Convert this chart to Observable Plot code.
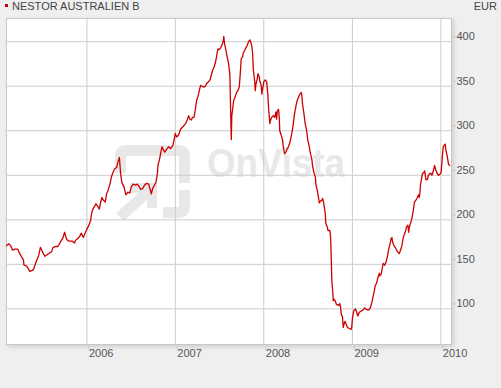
<!DOCTYPE html>
<html><head><meta charset="utf-8">
<script src="https://cdn.jsdelivr.net/npm/d3@7"></script>
<script src="https://cdn.jsdelivr.net/npm/@observablehq/plot@0.6"></script>
<style>
html,body{margin:0;padding:0;background:#efefef;}
#chart{width:501px;height:388px;overflow:hidden;}
svg{display:block}
</style></head><body><div id="chart"></div>
<script>
const title = "NESTOR AUSTRALIEN B";
const currency = "EUR";
const watermark = "OnVista";
const yTicks = [100, 150, 200, 250, 300, 350, 400];
const xTickDates = ["2006-01-01", "2007-01-01", "2008-01-01", "2009-01-01", "2010-01-01"];
const xDomain = ["2005-02-03", "2010-02-14"];
const yDomain = [60, 426];

const dates = [
"2005-02-03","2005-02-12","2005-02-20","2005-02-28","2005-03-09","2005-03-22","2005-03-26","2005-04-05","2005-04-14","2005-04-16",
"2005-04-27","2005-05-05","2005-05-10","2005-05-18","2005-05-25","2005-05-30","2005-06-07","2005-06-16","2005-06-23","2005-06-28",
"2005-07-05","2005-07-12","2005-07-22","2005-08-01","2005-08-08","2005-08-14","2005-08-24","2005-09-03","2005-09-12","2005-09-15",
"2005-09-23","2005-10-01","2005-10-05","2005-10-09","2005-10-19","2005-11-02","2005-11-11","2005-11-15","2005-11-25","2005-12-03",
"2005-12-09","2005-12-17","2005-12-23","2005-12-31","2006-01-09","2006-01-16","2006-01-19","2006-01-23","2006-01-30","2006-02-07",
"2006-02-15","2006-02-21","2006-02-27","2006-03-04","2006-03-10","2006-03-18","2006-03-23","2006-03-29","2006-04-06","2006-04-12",
"2006-04-17","2006-04-25","2006-05-04","2006-05-09","2006-05-15","2006-05-17","2006-05-20","2006-05-25","2006-06-03","2006-06-11",
"2006-06-19","2006-06-27","2006-07-03","2006-07-11","2006-07-20","2006-07-28","2006-08-05","2006-08-11","2006-08-19","2006-08-27",
"2006-09-04","2006-09-13","2006-09-18","2006-09-24","2006-09-29","2006-10-07","2006-10-13","2006-10-19","2006-10-21","2006-10-27",
"2006-11-01","2006-11-07","2006-11-12","2006-11-18","2006-11-26","2006-12-04","2006-12-12","2006-12-21","2006-12-26","2007-01-01",
"2007-01-06","2007-01-14","2007-01-23","2007-02-03","2007-02-12","2007-02-19","2007-02-25","2007-03-02","2007-03-08","2007-03-13",
"2007-03-19","2007-03-24","2007-03-30","2007-04-04","2007-04-10","2007-04-15","2007-04-21","2007-04-29","2007-05-05","2007-05-10",
"2007-05-18","2007-05-24","2007-05-29","2007-06-04","2007-06-09","2007-06-15","2007-06-20","2007-06-23","2007-06-26","2007-07-01",
"2007-07-07","2007-07-12","2007-07-18","2007-07-20","2007-07-23","2007-07-29","2007-08-03","2007-08-09","2007-08-14","2007-08-17",
"2007-08-20","2007-08-22","2007-08-25","2007-08-28","2007-08-31","2007-09-05","2007-09-11","2007-09-16","2007-09-22","2007-09-27",
"2007-09-30","2007-10-06","2007-10-08","2007-10-14","2007-10-19","2007-10-25","2007-10-30","2007-11-05","2007-11-10","2007-11-13",
"2007-11-16","2007-11-19","2007-11-24","2007-11-27","2007-11-29","2007-12-02","2007-12-05","2007-12-08","2007-12-13","2007-12-16",
"2007-12-19","2007-12-22","2007-12-24","2007-12-27","2007-12-30","2008-01-01","2008-01-07","2008-01-13","2008-01-15","2008-01-18",
"2008-01-21","2008-01-24","2008-01-26","2008-01-29","2008-02-03","2008-02-09","2008-02-15","2008-02-20","2008-02-23","2008-02-26",
"2008-03-02","2008-03-05","2008-03-07","2008-03-13","2008-03-19","2008-03-21","2008-03-24","2008-03-27","2008-04-01","2008-04-07",
"2008-04-12","2008-04-18","2008-04-26","2008-05-02","2008-05-07","2008-05-13","2008-05-18","2008-05-24","2008-05-29","2008-06-04",
"2008-06-06","2008-06-09","2008-06-15","2008-06-20","2008-06-26","2008-07-01","2008-07-07","2008-07-12","2008-07-18","2008-07-20",
"2008-07-26","2008-08-01","2008-08-03","2008-08-09","2008-08-14","2008-08-17","2008-08-22","2008-08-28","2008-08-31","2008-09-05",
"2008-09-11","2008-09-13","2008-09-19","2008-09-22","2008-09-30","2008-10-03","2008-10-06","2008-10-08","2008-10-11","2008-10-14",
"2008-10-16","2008-10-22","2008-10-27","2008-11-05","2008-11-10","2008-11-13","2008-11-16","2008-11-21","2008-11-24","2008-11-27",
"2008-12-02","2008-12-08","2008-12-13","2008-12-19","2008-12-27","2008-12-29","2009-01-01","2009-01-04","2009-01-07","2009-01-13",
"2009-01-18","2009-01-23","2009-01-26","2009-01-29","2009-02-03","2009-02-09","2009-02-15","2009-02-20","2009-02-25","2009-03-03",
"2009-03-11","2009-03-17","2009-03-22","2009-03-28","2009-04-02","2009-04-05","2009-04-11","2009-04-16","2009-04-22","2009-04-24",
"2009-04-30","2009-05-05","2009-05-08","2009-05-14","2009-05-19","2009-05-25","2009-05-30","2009-06-05","2009-06-10","2009-06-13",
"2009-06-16","2009-06-21","2009-06-27","2009-07-02","2009-07-07","2009-07-13","2009-07-19","2009-07-24","2009-07-30","2009-08-04",
"2009-08-09","2009-08-12","2009-08-18","2009-08-21","2009-08-23","2009-08-26","2009-09-01","2009-09-03","2009-09-09","2009-09-14",
"2009-09-20","2009-09-26","2009-10-01","2009-10-04","2009-10-06","2009-10-09","2009-10-12","2009-10-17","2009-10-23","2009-10-26",
"2009-10-29","2009-10-31","2009-11-06","2009-11-11","2009-11-17","2009-11-22","2009-11-25","2009-11-28","2009-12-03","2009-12-06",
"2009-12-11","2009-12-17","2009-12-22","2009-12-28","2010-01-02","2010-01-05","2010-01-08","2010-01-11","2010-01-13","2010-01-19",
"2010-01-22","2010-01-27","2010-01-30","2010-02-02","2010-02-07"
];
const values = [
171,173,171,166,167,167,164,159,155,149,
148,145,142,143,144,148,154,160,169,166,
162,159,161,163,164,169,170,170,174,176,
179,186,182,178,176,176,174,177,179,182,
185,180,184,189,194,199,205,210,214,218,
215,212,220,225,222,220,229,233,240,248,
252,257,259,265,270,263,252,242,237,228,
231,230,237,240,239,240,237,234,235,239,
241,240,235,229,235,239,242,252,261,267,
274,282,279,276,279,282,280,283,289,297,
293,295,302,305,308,312,317,313,312,315,
315,323,334,338,345,351,350,349,350,353,
355,357,362,368,371,376,383,388,392,391,
393,396,401,406,398,390,383,375,364,325,
290,317,323,330,335,338,343,345,349,368,
381,383,387,390,393,396,400,402,398,394,
387,368,357,345,351,355,358,364,361,355,
354,349,341,347,351,355,357,355,349,340,
325,315,308,312,315,317,315,321,313,322,
324,315,300,295,289,283,278,274,276,280,
282,287,297,308,319,328,334,338,341,343,
340,330,319,308,300,289,282,274,267,261,
253,248,240,233,225,219,221,222,224,218,
207,196,192,188,188,180,152,132,122,109,
111,109,105,104,106,102,94,91,79,83,
86,81,79,78,77,79,89,94,98,100,
97,92,94,96,97,98,99,101,100,99,
99,102,107,115,121,126,129,135,140,137,
139,147,151,149,152,158,166,173,179,180,
175,171,169,166,164,162,166,171,180,184,
188,192,194,186,190,194,199,201,210,220,
222,225,228,225,229,239,244,252,253,255,
250,245,245,250,252,252,250,252,257,261,
256,252,250,251,253,263,274,282,283,285,
278,272,267,262,261
];

const data = dates.map((d, i) => ({date: new Date(d), value: values[i]}));
const xTicks = xTickDates.map(d => new Date(d));

const W = 501, H = 388, mL = 6, mR = 50, mT = 18, mB = 44;
const FONT = "'Liberation Sans', Arial, Helvetica, sans-serif";
const WM = "#e8e8e8";

function watermarkMark() {
  const cx = mL + (W - mL - mR) / 2, cy = mT + (H - mT - mB) / 2;
  const g = d3.create("svg:g").attr("aria-label", "watermark").attr("fill", WM);
  const lg = g.append("g").attr("transform", `translate(${cx - 113.5},${cy - 36})`);
  lg.append("path").attr("d", "M0,28V12Q0,0 12,0H63Q75,0 75,12V38H64V11H11V28Z");
  lg.append("path").attr("d", "M48,73H63Q75,73 75,61V45H64V62H48Z");
  lg.append("path").attr("d", "M15,38H42V63H32V48H15Z");
  lg.append("path").attr("d", "M5,72L37,43").attr("stroke", WM).attr("stroke-width", 11).attr("fill", "none");
  g.append("text")
    .attr("x", cx - 21.5).attr("y", cy - 4)
    .attr("text-anchor", "start")
    .attr("font-family", FONT).attr("font-weight", "bold").attr("font-size", 40)
    .attr("textLength", 138).attr("lengthAdjust", "spacingAndGlyphs")
    .text(watermark);
  return g.node();
}

const chart = Plot.plot({
  width: W, height: H,
  marginLeft: mL, marginRight: mR, marginTop: mT, marginBottom: mB,
  style: {background: "transparent", fontFamily: FONT, fontSize: "11px", color: "#555"},
  x: {type: "utc", domain: xDomain.map(d => new Date(d)), label: null},
  y: {domain: yDomain, label: null},
  marks: [
    Plot.frame({fill: "white", stroke: "#c8c8c8"}),
    watermarkMark,
    Plot.gridX(xTicks, {stroke: "#cccccc", strokeOpacity: 1}),
    Plot.gridY(yTicks, {stroke: "#cccccc", strokeOpacity: 1}),
    Plot.axisX(xTicks, {anchor: "bottom", tickSize: 6, tickPadding: -1, stroke: "#cccccc", fill: "#555",
      tickFormat: "%Y", textAnchor: "start", dx: 2, label: null}),
    Plot.axisY(yTicks, {anchor: "right", tickSize: 4, tickPadding: 1, stroke: "#cccccc", fill: "#555",
      dy: -5, label: null}),
    Plot.lineY(data, {x: "date", y: "value", stroke: "#cc0000", strokeWidth: 1.3})
  ]
});

const frame = chart.querySelector('[aria-label="frame"]');
if (frame) frame.style.filter = "drop-shadow(2px 2px 2px rgba(0,0,0,0.13))";

const svg = d3.select(chart);
svg.append("rect").attr("x", 5).attr("y", 4).attr("width", 3).attr("height", 3).attr("fill", "#cc0000");
svg.append("text").attr("x", 12).attr("y", 10).attr("text-anchor", "start").attr("font-family", FONT)
  .attr("font-size", 11).attr("fill", "#444").text(title);
svg.append("text").attr("x", 497).attr("y", 10).attr("text-anchor", "end").attr("font-family", FONT)
  .attr("font-size", 11).attr("fill", "#444").text(currency);

document.getElementById("chart").appendChild(chart);
</script></body></html>
